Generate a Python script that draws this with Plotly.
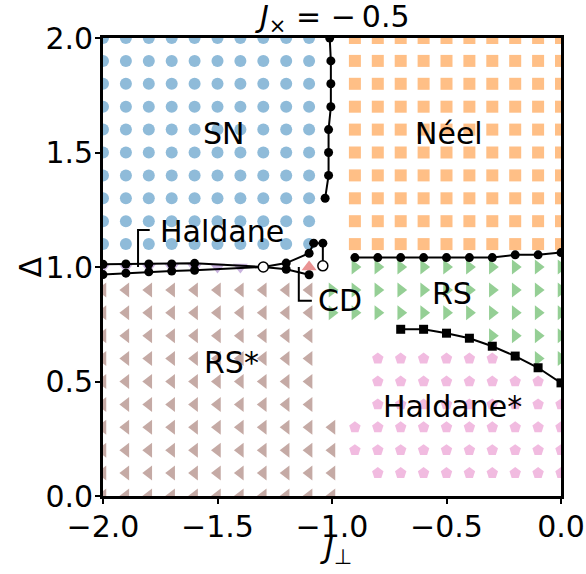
import plotly.graph_objects as go

# ---- grid of sampled couplings -------------------------------------------
J_PERP = [-2.0, -1.9, -1.8, -1.7, -1.6, -1.5, -1.4, -1.3, -1.2, -1.1, -1.0,
          -0.9, -0.8, -0.7, -0.6, -0.5, -0.4, -0.3, -0.2, -0.1, 0.0]
DELTA = [2.0, 1.9, 1.8, 1.7, 1.6, 1.5, 1.4, 1.3, 1.2, 1.1, 1.0,
         0.9, 0.8, 0.7, 0.6, 0.5, 0.4, 0.3, 0.2, 0.1, 0.0]

# phase found at each grid point (rows follow DELTA, columns follow J_PERP)
# S=SN  N=Neel  H=Haldane  C=CD  R=RS  r=RS*  h=Haldane*  .=none
PHASE_MAP = [
    "SSSSSSSSSS.NNNNNNNNNN",
    "SSSSSSSSSS.NNNNNNNNNN",
    "SSSSSSSSSS.NNNNNNNNNN",
    "SSSSSSSSSS.NNNNNNNNNN",
    "SSSSSSSSSS.NNNNNNNNNN",
    "SSSSSSSSSS.NNNNNNNNNN",
    "SSSSSSSSSS.NNNNNNNNNN",
    "SSSSSSSSSS.NNNNNNNNNN",
    "SSSSSSSSSS.NNNNNNNNNN",
    "SSSSSSSSSS.NNNNNNNNNN",
    "HHHHHHH..C.RRRRRRRRRR",
    "rrrrrrrrrrRRRRRRRRRRR",
    "rrrrrrrrrrRRRRRRRRRRR",
    "rrrrrrrrrr.......RRRR",
    "rrrrrrrrrr..hhhhhh.RR",
    "rrrrrrrrrr..hhhhhhhh.",
    "rrrrrrrrrr..hhhhhhhhh",
    "rrrrrrrrrrrhhhhhhhhhh",
    "rrrrrrrrrrrhhhhhhhhhh",
    "rrrrrrrrrrr.hhhhhhhhh",
    "rrrrrrrrrrr..........",
]

# code -> (symbol, size, colour)
PHASE_STYLE = {
    "S": ("circle", 12, "#8fbbd9"),
    "N": ("square", 12, "#ffbf86"),
    "H": ("triangle-down", 13, "#c9b3de"),
    "C": ("triangle-up", 13, "#ea9393"),
    "R": ("triangle-right", 13, "#95cf95"),
    "r": ("triangle-left", 13, "#c5aaa5"),
    "h": ("pentagon", 12, "#f1bbe0"),
}

# ---- phase boundaries -----------------------------------------------------
# SN / Neel
SN_NEEL_X = [-1.03, -1.015, -1.015, -1.015, -1.005, -1.005, -1.005, -1.01]
SN_NEEL_Y = [1.3, 1.4, 1.5, 1.6, 1.7, 1.8, 1.9, 2.0]
# SN / Haldane
SN_HAL_X = [-2.0, -1.9, -1.8, -1.7, -1.6]
SN_HAL_Y = [1.012, 1.013, 1.013, 1.013, 1.016]
# Haldane / RS*
HAL_RSS_X = [-2.0, -1.9, -1.8, -1.7, -1.6]
HAL_RSS_Y = [0.967, 0.973, 0.979, 0.982, 0.986]
# pinch points of the Haldane phase (open circles)
PINCH_X = [-1.3, -1.04]
PINCH_Y = [1.0, 1.005]
# CD pocket, upper branch and lower branch
CD_UP_X = [-1.2, -1.1, -1.08, -1.04]
CD_UP_Y = [1.017, 1.06, 1.104, 1.104]
CD_LO_X = [-1.2, -1.1]
CD_LO_Y = [0.99, 0.966]
# Neel / RS
NEEL_RS_X = [-0.9, -0.8, -0.7, -0.6, -0.5, -0.4, -0.3, -0.2, -0.1, 0.0]
NEEL_RS_Y = [1.041, 1.041, 1.041, 1.041, 1.041, 1.041, 1.041, 1.053, 1.053, 1.063]
# RS / Haldane*
RS_HALS_X = [-0.7, -0.6, -0.5, -0.4, -0.3, -0.2, -0.1, 0.0]
RS_HALS_Y = [0.728, 0.728, 0.711, 0.689, 0.654, 0.611, 0.56, 0.494]

# ---- phase labels ---------------------------------------------------------
LABELS = [
    ("SN", -1.475, 1.585),
    ("Néel", -0.49, 1.585),
    ("Haldane", -1.48, 1.155),
    ("CD", -0.965, 0.855),
    ("RS", -0.475, 0.885),
    ("RS*", -1.44, 0.585),
    ("Haldane*", -0.472, 0.39),
]
X_TICKS = [-2.0, -1.5, -1.0, -0.5, 0.0]
Y_TICKS = [0.0, 0.5, 1.0, 1.5, 2.0]

FONT = "DejaVu Sans"
fig = go.Figure()

for code, (symbol, size, colour) in PHASE_STYLE.items():
    xs, ys = [], []
    for row, d in zip(PHASE_MAP, DELTA):
        for ch, j in zip(row, J_PERP):
            if ch == code:
                xs.append(j)
                ys.append(d)
    fig.add_trace(go.Scatter(x=xs, y=ys, mode="markers", cliponaxis=True,
                             marker=dict(symbol=symbol, size=size, color=colour,
                                         line=dict(width=0))))

line_style = dict(color="black", width=2)
dot_style = dict(symbol="circle", size=9, color="black", line=dict(width=0))


def boundary(xs, ys, marker=dot_style, mode="lines+markers"):
    fig.add_trace(go.Scatter(x=xs, y=ys, mode=mode, line=line_style, marker=marker,
                             cliponaxis=True))


boundary(SN_NEEL_X, SN_NEEL_Y)
boundary(SN_HAL_X + [PINCH_X[0]], SN_HAL_Y + [PINCH_Y[0]], mode="lines")
boundary(HAL_RSS_X + [PINCH_X[0]], HAL_RSS_Y + [PINCH_Y[0]], mode="lines")
boundary([PINCH_X[0]] + CD_UP_X + [PINCH_X[1]], [PINCH_Y[0]] + CD_UP_Y + [PINCH_Y[1]], mode="lines")
boundary([PINCH_X[0]] + CD_LO_X, [PINCH_Y[0]] + CD_LO_Y, mode="lines")
boundary(SN_HAL_X + CD_UP_X, SN_HAL_Y + CD_UP_Y, mode="markers")
boundary(HAL_RSS_X + CD_LO_X, HAL_RSS_Y + CD_LO_Y, mode="markers")
boundary(NEEL_RS_X, NEEL_RS_Y)
boundary(RS_HALS_X, RS_HALS_Y,
         marker=dict(symbol="square", size=9, color="black", line=dict(width=0)))
boundary(PINCH_X, PINCH_Y, mode="markers",
         marker=dict(symbol="circle", size=10, color="white",
                     line=dict(color="black", width=1.5)))

# leader lines for the two narrow phases
fig.add_shape(type="path", path="M -1.847 1.0 L -1.847 1.162 L -1.796 1.162",
              line=dict(color="black", width=2), xref="x", yref="y")
fig.add_shape(type="path", path="M -1.145 1.0 L -1.145 0.853 L -1.088 0.853",
              line=dict(color="black", width=2), xref="x", yref="y")

for text, x, y in LABELS:
    fig.add_annotation(x=x, y=y, text=text, showarrow=False,
                       font=dict(family=FONT, size=30, color="black"),
                       xanchor="center", yanchor="middle")

fig.add_annotation(x=0.5, y=1, xref="paper", yref="paper", showarrow=False,
                   text="<i>J</i><sub>×</sub> = −\u20090.5", yanchor="bottom", yshift=-2,
                   font=dict(family=FONT, size=30, color="black"))
fig.add_annotation(x=0.5, y=0, xref="paper", yref="paper", showarrow=False,
                   text="<i>J</i><sub>⊥</sub>", yanchor="top", yshift=-32, xshift=4,
                   font=dict(family=FONT, size=30, color="black"))
fig.add_annotation(x=0, y=0.5, xref="paper", yref="paper", showarrow=False,
                   text="Δ", xanchor="right", xshift=-54, textangle=-90,
                   font=dict(family=FONT, size=30, color="black"))

axis_common = dict(showgrid=False, zeroline=False, showline=True, mirror=True,
                   automargin=False,
                   linecolor="black", linewidth=2.7, ticks="outside", ticklen=5,
                   tickwidth=2, tickcolor="black",
                   tickfont=dict(family=FONT, size=30, color="black"))
fig.update_xaxes(range=[-2.0, 0.0], tickvals=X_TICKS, ticklabelstandoff=-3,
                 ticktext=[f"{v:.1f}".replace("-", "−") for v in X_TICKS], **axis_common)
fig.update_yaxes(range=[0.0, 2.0], tickvals=Y_TICKS, ticklabelstandoff=-4,
                 ticktext=[f"{v:.1f}" for v in Y_TICKS], **axis_common)

fig.update_layout(width=586, height=574, showlegend=False,
                  margin=dict(l=103, r=25, t=38, b=78, autoexpand=False),
                  plot_bgcolor="white", paper_bgcolor="white",
                  font=dict(family=FONT))
fig.write_html("out.html")
